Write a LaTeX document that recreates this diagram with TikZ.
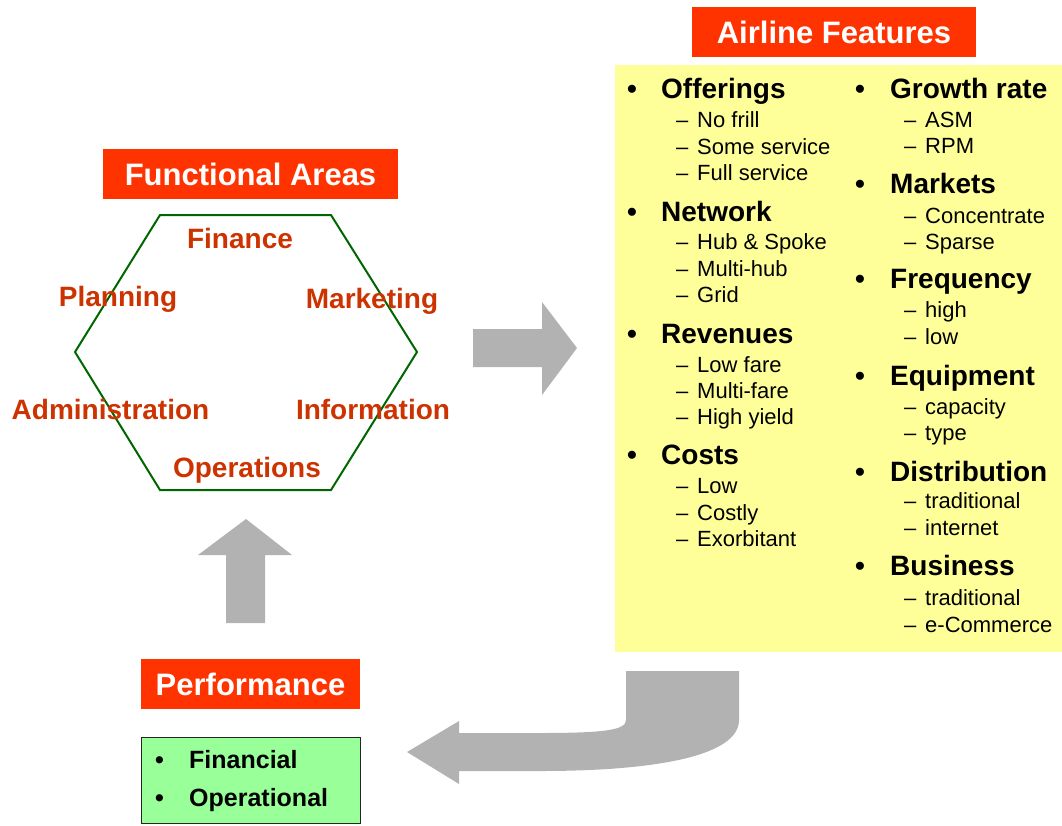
\documentclass[tikz,border=0pt]{standalone}
\usepackage{fontspec}
\setmainfont{Liberation Sans}
\definecolor{titlered}{HTML}{FF3300}
\definecolor{arealabel}{HTML}{CC3300}
\definecolor{noteyellow}{HTML}{FFFF99}
\definecolor{mint}{HTML}{99FF99}
\definecolor{arrowgray}{HTML}{B2B2B2}
\definecolor{hexgreen}{HTML}{006600}

\begin{document}
\begin{tikzpicture}[
  x=1pt,y=-1pt,
  title/.style={fill=titlered,text=white,inner sep=0pt,
    font=\fontsize{31}{31}\selectfont\bfseries},
  area/.style={text=arealabel,anchor=base,inner sep=0pt,
    font=\fontsize{28}{28}\selectfont\bfseries},
  head/.style={anchor=base west,inner sep=0pt,
    font=\fontsize{28}{28}\selectfont\bfseries},
  sub/.style={anchor=base west,inner sep=0pt,
    font=\fontsize{22}{22}\selectfont},
  block/.style={fill=arrowgray}
]
  \useasboundingbox (0,0) rectangle (1062,825);

  % airline features
  \node[title,minimum width=284,minimum height=50] (airline) at (834,32) {Airline Features};
  \node[fill=noteyellow,inner sep=0pt,anchor=north west,
    minimum width=447,minimum height=587] (features) at (615,65) {};

  \foreach \y/\t [count=\i] in {98/Offerings,221/Network,343/Revenues,464/Costs}
    \node[head] (lh\i) at (627,\y) {\makebox[34pt][l]{•}\t};
  \foreach \y/\t [count=\i] in {127/No frill,154/Some service,180/Full service,
      249/Hub \& Spoke,276/Multi-hub,302/Grid,
      372/Low fare,398/Multi-fare,424/High yield,
      493/Low,520/Costly,546/Exorbitant}
    \node[sub] (ls\i) at (676,\y) {\makebox[21pt][l]{–}\t};

  \foreach \y/\t [count=\i] in {98/Growth rate,193/Markets,288/Frequency,
      385/Equipment,481/Distribution,575/Business}
    \node[head] (rh\i) at (855,\y) {\makebox[35pt][l]{•}\t};
  \foreach \y/\t [count=\i] in {127/ASM,153/RPM,223/Concentrate,249/Sparse,
      317/high,344/low,414/capacity,440/type,
      508/traditional,535/internet,605/traditional,632/e-Commerce}
    \node[sub] (rs\i) at (904,\y) {\makebox[21pt][l]{–}\t};

  % functional areas
  \node[title,minimum width=295,minimum height=50] (areas) at (250.5,174) {Functional Areas};
  \draw[hexgreen,line width=2pt] (160,215) -- (331,215) -- (417,352)
    -- (331,490) -- (160,490) -- (75,352) -- cycle;
  \node[area] (finance) at (240,248) {Finance};
  \node[area] (planning) at (118,306) {Planning};
  \node[area] (marketing) at (372,308) {Marketing};
  \node[area] (admin) at (110.5,419) {Administration};
  \node[area] (info) at (373,419) {Information};
  \node[area] (ops) at (247,477) {Operations};

  % performance
  \node[title,minimum width=219,minimum height=50] (perf) at (250.5,684) {Performance};
  \node[draw=black!85,line width=1.4pt,fill=mint,inner sep=0pt,anchor=north west,
    minimum width=219,minimum height=86] (perfbox) at (141,737) {};
  \node[head,font=\fontsize{25}{25}\selectfont\bfseries] (fin) at (155,768)
    {\makebox[34pt][l]{•}Financial};
  \node[head,font=\fontsize{25}{25}\selectfont\bfseries] (oper) at (155,806)
    {\makebox[34pt][l]{•}Operational};

  % block arrows
  \fill[block] (473,329) -- (542,329) -- (542,302) -- (577,348) -- (542,395)
    -- (542,367) -- (473,367) -- cycle;
  \fill[block] (226,623) -- (226,555) -- (198,555) -- (246,519) -- (292,555)
    -- (265,555) -- (265,623) -- cycle;
  \fill[block] (626,671) -- (739,671) -- (739,720)
    .. controls (739,755) and (660,771) .. (540,771) -- (459,771) -- (459,784)
    -- (407,752) -- (459,721) -- (459,733) -- (540,733)
    .. controls (605,733) and (626,730) .. (626,720) -- cycle;
\end{tikzpicture}
\end{document}
